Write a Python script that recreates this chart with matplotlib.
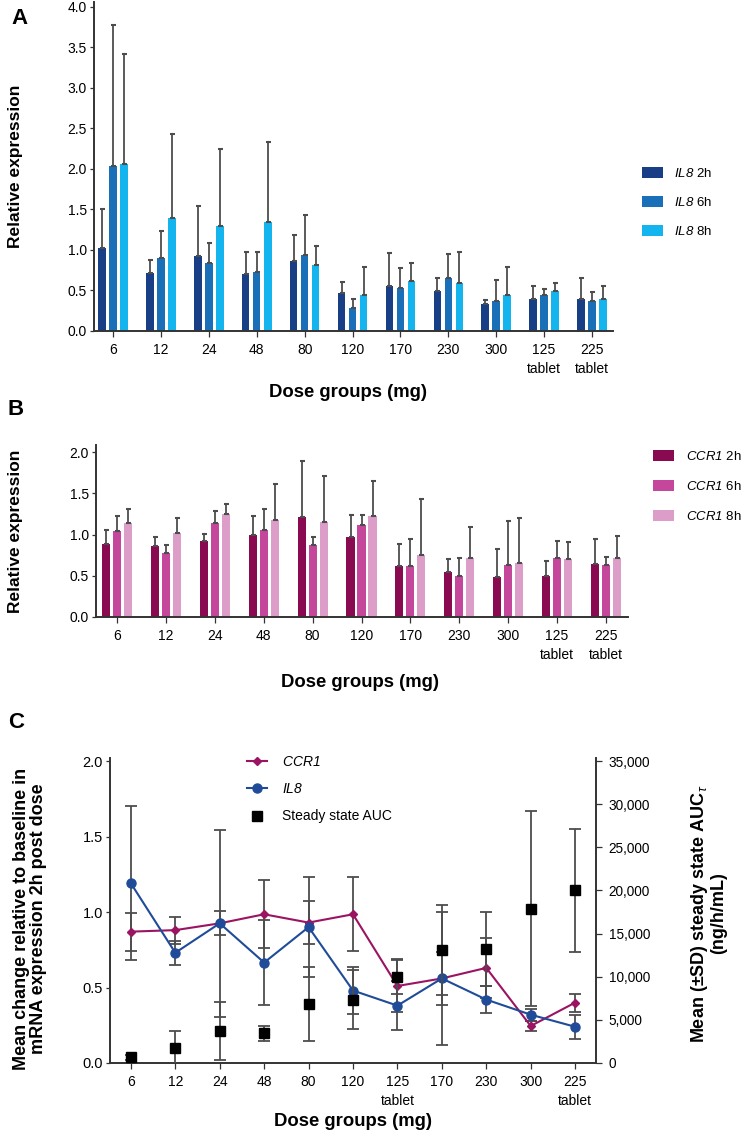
import numpy as np
import matplotlib
matplotlib.use('Agg')
import matplotlib.pyplot as plt
from matplotlib.ticker import FuncFormatter

# --- data
groups_ab = ['6', '12', '24', '48', '80', '120', '170', '230', '300', '125\ntablet', '225\ntablet']

il8_2h = [1.03, 0.72, 0.92, 0.70, 0.86, 0.47, 0.55, 0.49, 0.33, 0.39, 0.39]
il8_2h_sd = [0.47, 0.16, 0.62, 0.27, 0.33, 0.14, 0.41, 0.16, 0.05, 0.17, 0.27]
il8_6h = [2.04, 0.90, 0.84, 0.73, 0.94, 0.28, 0.53, 0.66, 0.37, 0.45, 0.37]
il8_6h_sd = [1.73, 0.33, 0.25, 0.25, 0.49, 0.12, 0.25, 0.29, 0.26, 0.07, 0.11]
il8_8h = [2.06, 1.40, 1.29, 1.34, 0.81, 0.45, 0.62, 0.59, 0.45, 0.49, 0.39]
il8_8h_sd = [1.36, 1.03, 0.96, 0.99, 0.24, 0.34, 0.22, 0.39, 0.34, 0.10, 0.16]

ccr1_2h = [0.89, 0.86, 0.92, 1.00, 1.21, 0.97, 0.62, 0.55, 0.48, 0.50, 0.64]
ccr1_2h_sd = [0.17, 0.11, 0.09, 0.22, 0.68, 0.27, 0.26, 0.15, 0.34, 0.18, 0.31]
ccr1_6h = [1.04, 0.78, 1.14, 1.05, 0.87, 1.12, 0.62, 0.50, 0.63, 0.72, 0.63]
ccr1_6h_sd = [0.18, 0.09, 0.14, 0.26, 0.10, 0.12, 0.33, 0.22, 0.53, 0.20, 0.10]
ccr1_8h = [1.14, 1.02, 1.25, 1.18, 1.15, 1.23, 0.75, 0.72, 0.66, 0.70, 0.72]
ccr1_8h_sd = [0.17, 0.18, 0.12, 0.43, 0.56, 0.42, 0.68, 0.37, 0.54, 0.21, 0.26]

groups_c = ['6', '12', '24', '48', '80', '120', '125\ntablet', '170', '230', '300', '225\ntablet']
ccr1_c = [0.87, 0.88, 0.925, 0.985, 0.93, 0.985, 0.51, 0.56, 0.63, 0.245, 0.40]
ccr1_c_sd = [0.125, 0.09, 0.08, 0.225, 0.14, 0.245, 0.17, 0.44, 0.20, 0.03, 0.06]
il8_c = [1.19, 0.73, 0.925, 0.665, 0.90, 0.48, 0.38, 0.56, 0.42, 0.32, 0.24]
il8_c_sd = [0.51, 0.08, 0.62, 0.28, 0.33, 0.155, 0.16, 0.175, 0.09, 0.04, 0.08]
auc = [650, 1740, 3700, 3450, 6850, 7350, 10000, 13100, 13200, 17900, 20000]
auc_sd = [300, 2000, 3400, 880, 4300, 3400, 2000, 5200, 4300, 11300, 7100]

# --- fonts (math only used for the italic gene names and the tau subscript)
plt.rcParams['font.family'] = ['Liberation Sans', 'DejaVu Sans']
plt.rcParams['mathtext.fontset'] = 'custom'
plt.rcParams['mathtext.rm'] = 'Liberation Sans:italic'
plt.rcParams['mathtext.it'] = 'Liberation Sans:italic'
plt.rcParams['mathtext.bf'] = 'Liberation Sans:bold'

W, H = 745, 1133
fig = plt.figure(figsize=(W / 100, H / 100), dpi=100)

spineCol = '#333333'
errCol = '#4d4d4d'
tickSize = 10


def px_axes(left, right, top, bottom):
    return fig.add_axes([left / W, 1 - bottom / H, (right - left) / W, (bottom - top) / H])


def style_axes(ax):
    for s in ['top', 'right']:
        ax.spines[s].set_visible(False)
    for s in ['left', 'bottom']:
        ax.spines[s].set_color(spineCol)
        ax.spines[s].set_linewidth(1.4)
    ax.tick_params(axis='y', length=3, width=0.9, color=spineCol, labelsize=tickSize, pad=2)
    ax.tick_params(axis='x', length=4, width=0.9, color=spineCol, labelsize=tickSize, pad=5)


def bar_panel(ax, means, sds, colors, labels, off, bw):
    x = np.arange(len(groups_ab))
    for i in range(3):
        ax.bar(x + (i - 1) * off, means[i], width=bw, color=colors[i], label=labels[i],
               yerr=[np.zeros(len(means[i])), sds[i]],
               error_kw=dict(ecolor=errCol, elinewidth=1.3, capsize=1.8, capthick=1.5),
               zorder=2)
    ax.set_xticks(x)
    ax.set_xticklabels(groups_ab, linespacing=1.4)
    style_axes(ax)


# ---------------- Panel A
axA = px_axes(94, 613, 2, 331)
bar_panel(axA, [il8_2h, il8_6h, il8_8h], [il8_2h_sd, il8_6h_sd, il8_8h_sd],
          ['#183f86', '#1a70b8', '#14b4ee'],
          [r'$IL8$ 2h', r'$IL8$ 6h', r'$IL8$ 8h'], 0.23, 0.155)
axA.set_xlim(-0.4, 10.44)
axA.set_ylim(0, 4.06)
axA.set_yticks(np.arange(0, 4.01, 0.5))
axA.yaxis.set_major_formatter(FuncFormatter(lambda v, p: '%.1f' % v))
axA.set_ylabel('Relative expression', fontsize=12.5, fontweight='bold', va='center')
axA.yaxis.set_label_coords(-0.152, 0.5)
axA.set_xlabel('Dose groups (mg)', fontsize=13.3, fontweight='bold', va='center')
axA.xaxis.set_label_coords(0.489, -0.188)
axA.legend(loc='upper left', bbox_to_anchor=(642 / W, 1 - 167 / H), bbox_transform=fig.transFigure,
           frameon=False, fontsize=9.5, borderpad=0, borderaxespad=0, handlelength=1.6,
           handleheight=0.9, handletextpad=0.8, labelspacing=1.2)

# ---------------- Panel B
axB = px_axes(96, 628, 445, 617)
bar_panel(axB, [ccr1_2h, ccr1_6h, ccr1_8h], [ccr1_2h_sd, ccr1_6h_sd, ccr1_8h_sd],
          ['#8a0a52', '#c4479c', '#dc9dc9'],
          [r'$CCR1$ 2h', r'$CCR1$ 6h', r'$CCR1$ 8h'], 0.225, 0.165)
axB.set_xlim(-0.43, 10.45)
axB.set_ylim(0, 2.085)
axB.set_yticks(np.arange(0, 2.01, 0.5))
axB.yaxis.set_major_formatter(FuncFormatter(lambda v, p: '%.1f' % v))
axB.set_ylabel('Relative expression', fontsize=12.5, fontweight='bold', va='center')
axB.yaxis.set_label_coords(-0.152, 0.5)
axB.set_xlabel('Dose groups (mg)', fontsize=13.3, fontweight='bold', va='center')
axB.xaxis.set_label_coords(0.496, -0.378)
axB.legend(loc='upper left', bbox_to_anchor=(653 / W, 1 - 450 / H), bbox_transform=fig.transFigure,
           frameon=False, fontsize=9.5, borderpad=0, borderaxespad=0, handlelength=1.6,
           handleheight=0.9, handletextpad=0.9, labelspacing=1.3)

# ---------------- Panel C
axC = px_axes(110, 596, 758, 1063)
axC2 = axC.twinx()
xc = np.arange(len(groups_c))
ebkw = dict(ecolor=errCol, elinewidth=1.3, capsize=4.2, capthick=1.3)
ebC = axC.errorbar(xc, ccr1_c, yerr=ccr1_c_sd, color='#9b1462', lw=1.5, marker='D', ms=4,
                   zorder=3, **ebkw)
ebI = axC.errorbar(xc, il8_c, yerr=il8_c_sd, color='#1f4b99', lw=1.5, marker='o', ms=6.5,
                   zorder=3, **ebkw)
ebA = axC2.errorbar(xc, auc, yerr=auc_sd, color='black', ls='none', marker='s', ms=6.5,
                    zorder=3, **ebkw)
style_axes(axC)
axC.set_xlim(-0.47, 10.47)
axC.set_ylim(0, 2.02)
axC.set_yticks(np.arange(0, 2.01, 0.5))
axC.yaxis.set_major_formatter(FuncFormatter(lambda v, p: '%.1f' % v))
axC.set_xticks(xc)
axC.set_xticklabels(groups_c, linespacing=1.4)
axC.tick_params(axis='y', labelsize=10.5)
axC.set_ylabel('Mean change relative to baseline in\nmRNA expression 2h post dose',
               fontsize=13, fontweight='bold', va='center', linespacing=1.0)
axC.yaxis.set_label_coords(-0.165, 0.472)
axC.set_xlabel('Dose groups (mg)', fontsize=13.3, fontweight='bold', va='center')
axC.xaxis.set_label_coords(0.50, -0.193)

axC2.set_ylim(0, 35350)
axC2.set_yticks(np.arange(0, 35001, 5000))
axC2.yaxis.set_major_formatter(FuncFormatter(lambda v, p: '{:,.0f}'.format(v)))
for s in ['top', 'left', 'bottom']:
    axC2.spines[s].set_visible(False)
axC2.spines['right'].set_color(spineCol)
axC2.spines['right'].set_linewidth(1.4)
axC2.tick_params(axis='y', length=4, width=0.9, color=spineCol, labelsize=9.8, pad=5)
axC2.set_ylabel('Mean (\u00b1SD) steady state AUC$_\\tau$\n(ng/h/mL)', fontsize=13,
                fontweight='bold', va='center', rotation=90, linespacing=1.0)
axC2.yaxis.set_label_coords(1.231, 0.49)

axC2.legend([ebC[0], ebI[0], ebA[0]], [r'$CCR1$', r'$IL8$', 'Steady state AUC'],
            loc='upper left', bbox_to_anchor=(247 / W, 1 - 755 / H),
            bbox_transform=fig.transFigure, frameon=False, fontsize=10, borderpad=0,
            borderaxespad=0, handlelength=1.45, handletextpad=1.1, labelspacing=0.95, numpoints=1)

# --- panel letters
for letter, xx, yy in [('A', 19, 18), ('B', 16, 410), ('C', 16, 722)]:
    fig.text(xx / W, 1 - yy / H, letter, fontsize=16, fontweight='bold', ha='center', va='center')

fig.savefig('out.png', dpi=100)
